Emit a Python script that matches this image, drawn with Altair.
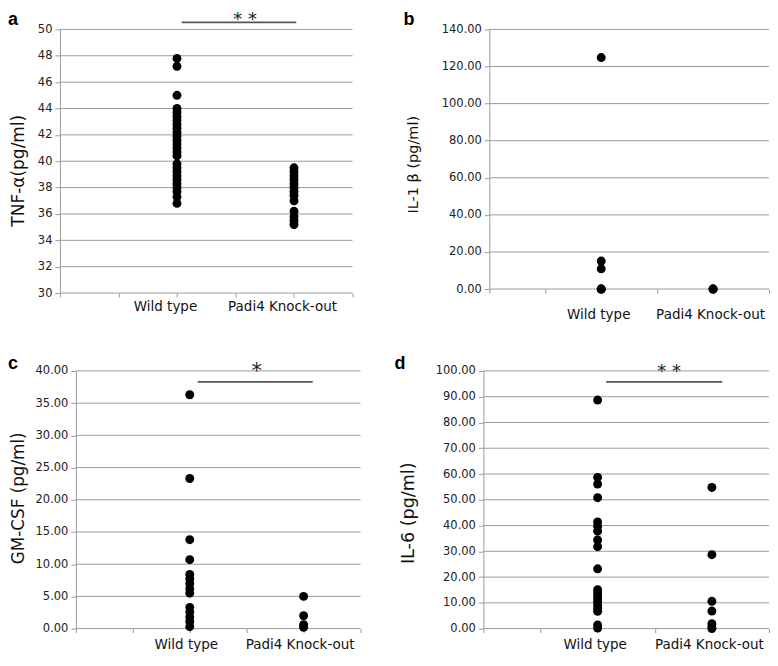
import altair as alt
import pandas as pd

# ---------------- data ----------------
groups = ["Wild type", "Padi4 Knock-out"]
group_pos = [1, 2]

tnf_wt = [47.8, 47.2, 45.0, 44.0, 43.7, 43.4, 43.1, 42.8, 42.5, 42.2, 41.9, 41.6,
          41.3, 41.0, 40.7, 40.4, 39.8, 39.5, 39.2, 38.9, 38.6, 38.3, 38.0, 37.7,
          37.3, 36.8]
tnf_ko = [39.5, 39.2, 38.9, 38.6, 38.3, 38.0, 37.7, 37.4, 37.0, 36.2, 35.8, 35.5, 35.2]

il1b_wt = [124.8, 15.1, 10.9, 0.0, 0.0, 0.0]
il1b_ko = [0.0, 0.0, 0.0]

gmcsf_wt = [36.3, 23.3, 13.8, 10.7, 8.4, 7.7, 7.0, 6.2, 5.5, 3.3, 2.6, 1.8, 1.1, 0.3]
gmcsf_ko = [5.0, 2.0, 0.6, 0.2]

il6_wt = [88.7, 58.7, 56.1, 50.8, 41.4, 39.7, 37.8, 34.4, 31.8, 23.2, 15.1, 14.0,
          12.8, 11.5, 10.3, 9.0, 7.8, 6.7, 1.4, 0.2]
il6_ko = [54.8, 28.7, 10.6, 6.8, 1.9, 0.6, 0.0]

x_ticks = [0, 0.5, 1, 1.5, 2, 2.5]

GRID = "#9c9c9c"
FONT = "DejaVu Sans"


def panel(wt, ko, ytitle, letter, ydom, ystep, yfmt, w, h, lead,
          title_size, title_x, title_y, letter_x, letter_y,
          label_pad, label_off, sig=None, top_room=None):
    ppu = w / 2.5
    x0 = -lead / ppu
    df = pd.DataFrame({
        "x": [group_pos[0]] * len(wt) + [group_pos[1]] * len(ko),
        "v": wt + ko,
    })
    yvals = []
    t = ydom[0]
    while t <= ydom[1] + 1e-9:
        yvals.append(round(t, 6))
        t += ystep
    label_expr = ("datum.value == %d ? '%s' : datum.value == %d ? '%s' : ''"
                  % (group_pos[0], groups[0], group_pos[1], groups[1]))
    xscale = alt.Scale(domain=[x0, 2.5], nice=False, zero=False)
    yscale = alt.Scale(domain=ydom, nice=False, zero=False)
    xaxis = alt.Axis(values=x_ticks, labelExpr=label_expr, grid=False, title=None,
                     domain=False, tickColor=GRID, tickSize=4, labelFont=FONT,
                     labelFontSize=13.5, labelColor="#111", labelPadding=label_pad,
                     labelOffset=label_off, labelAngle=0, labelOverlap=False,
                     labelFlush=False, zindex=0)
    yaxis = alt.Axis(values=yvals, format=yfmt, grid=False, domainColor=GRID,
                     tickColor=GRID, tickSize=5, offset=-lead, labelFont=FONT,
                     labelFontSize=11.5, labelColor="#222", labelPadding=3,
                     labelOverlap=False, title=ytitle, titleFont=FONT,
                     titleFontSize=title_size, titleFontWeight="normal",
                     titleColor="#111", titleX=title_x, titleY=title_y,
                     titleBaseline="middle", titleAngle=270, zindex=0)

    def X(f):
        return alt.X(f, scale=xscale, axis=xaxis)

    def Y(f):
        return alt.Y(f, scale=yscale, axis=yaxis)

    gdf = pd.DataFrame({"x1": [0.0] * len(yvals), "x2": [2.5] * len(yvals), "v": yvals})
    grid = alt.Chart(gdf).mark_rule(color=GRID, strokeWidth=1).encode(
        x=X("x1:Q"), x2="x2:Q", y=Y("v:Q"))
    pts = alt.Chart(df).mark_circle(size=80, color="black", opacity=1).encode(
        x=X("x:Q"), y=Y("v:Q"))
    layers = [grid, pts]

    if sig is not None:
        (sx1, sx2, sy, stext, stx, sty, ssize) = sig
        sdf = pd.DataFrame({"x1": [sx1], "x2": [sx2], "v": [sy]})
        layers.append(alt.Chart(sdf).mark_rule(color="#555555", strokeWidth=1.8).encode(
            x=X("x1:Q"), x2="x2:Q", y=Y("v:Q")))
        tdf = pd.DataFrame({"x": [stx], "v": [sty], "t": [stext]})
        layers.append(alt.Chart(tdf).mark_text(baseline="top", align="center", font=FONT,
                                               fontSize=ssize, color="#222").encode(
            x=X("x:Q"), y=Y("v:Q"), text="t:N"))

    ldf = pd.DataFrame({"t": [letter]})
    layers.append(alt.Chart(ldf).mark_text(baseline="top", align="left",
                                           font="Liberation Sans", fontSize=18,
                                           fontWeight="bold", color="black").encode(
        x=alt.value(letter_x), y=alt.value(letter_y), text="t:N"))
    if top_room is not None:
        # invisible spacer that keeps a little room above the panel letters
        layers.append(alt.Chart(ldf).mark_rule(color="white", strokeOpacity=0).encode(
            x=alt.value(0), x2=alt.value(1), y=alt.value(top_room)))
    return alt.layer(*layers).properties(width=w + lead, height=h)


pa = panel(tnf_wt, tnf_ko, "TNF-α(pg/ml)", "a", [30, 50], 2, "d", 293, 264, 0,
           17, -41, 141, -52, -18, 2, -12,
           sig=(1.04, 2.02, 50.53, "* *", 1.583, 51.36, 18), top_room=-21)
pb = panel(il1b_wt, il1b_ko, "IL-1 β (pg/ml)", "b", [0, 140], 20, ".2f", 280, 260, 0,
           14.5, -76, 135, -86, -18, 14, -3)
pc = panel(gmcsf_wt, gmcsf_ko, "GM-CSF (pg/ml)", "c", [0, 40], 5, ".2f", 285, 258, 16,
           16.8, -57, 127, -52, -16, 5, -4,
           sig=(1.07, 2.08, 38.3, "*", 1.588, 41.5, 21))
pd_ = panel(il6_wt, il6_ko, "IL-6 (pg/ml)", "d", [0, 100], 10, ".2f", 286, 258, 0,
            17.6, -75, 142, -89, -16, 5, -3,
            sig=(1.075, 2.09, 95.77, "* *", 1.626, 103.1, 18))

row1 = alt.hconcat(pa, pb, spacing=50)
row2 = alt.hconcat(pc, pd_, spacing=33)
chart = (alt.vconcat(row1, row2, spacing=34)
         .properties(padding=0)
         .configure_view(stroke=None)
         .configure_axis(labelOverlap=False))

chart.save("out.html", embed_options={"renderer": "svg", "actions": False})
